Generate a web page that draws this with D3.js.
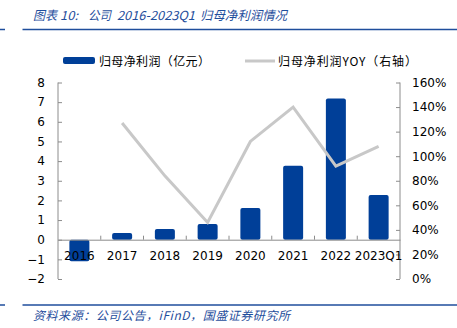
<!DOCTYPE html>
<html><head><meta charset="utf-8">
<script src="https://cdn.jsdelivr.net/npm/d3@7"></script>
<style>body{margin:0;background:#fff}svg{display:block}</style>
</head><body>
<script>
const categories = ["2016","2017","2018","2019","2020","2021","2022","2023Q1"];
const profit = [-1.1, 0.34, 0.54, 0.80, 1.61, 3.76, 7.19, 2.27];
const yoy = [null, 1.27, 0.84, 0.46, 1.12, 1.40, 0.92, 1.08];
const leftTicks = [-2,-1,0,1,2,3,4,5,6,7,8];
const rightTicks = [0,0.2,0.4,0.6,0.8,1.0,1.2,1.4,1.6];
const titleParts = ["图表", "10:", "公司", "2016-2023Q1", "归母净利润情况"];
const source = "资料来源：公司公告，iFinD，国盛证券研究所";
const legendBar = "归母净利润（亿元）";
const legendLine = "归母净利润YOY（右轴）";

const W = 457, H = 328;
const svg = d3.select("body").append("svg").attr("width", W).attr("height", H);
const blue = "#003f98", gray = "#c8c8c8", axisC = "#8c8c8c", hdr = "#1f4e9c";
const font = "DejaVu Sans, Verdana, sans-serif";
const cjk = "'Noto Sans CJK SC', sans-serif";

// header
const titleX = [33, 60, 88, 117, 200];
const titleL = [24, 18, 23, 78, 87];
svg.append("g").selectAll("text").data(titleParts).join("text")
  .attr("x", (d,i) => titleX[i]).attr("y", 19.5).attr("font-family", cjk)
  .attr("font-size", 12.5).attr("font-style", "italic").attr("fill", hdr)
  .attr("textLength", (d,i) => titleL[i]).attr("lengthAdjust", "spacingAndGlyphs")
  .text(d => d);
svg.append("line").attr("x1",0).attr("x2",5).attr("y1",29.5).attr("y2",29.5).attr("stroke",hdr).attr("stroke-width",1.5);
svg.append("line").attr("x1",22.5).attr("x2",W).attr("y1",29.5).attr("y2",29.5).attr("stroke",hdr).attr("stroke-width",1.5);
// footer
svg.append("line").attr("x1",0).attr("x2",5).attr("y1",305).attr("y2",305).attr("stroke",hdr).attr("stroke-width",1.5);
svg.append("line").attr("x1",22.5).attr("x2",W).attr("y1",305).attr("y2",305).attr("stroke",hdr).attr("stroke-width",1.5);
svg.append("text").attr("x", 33).attr("y", 320).attr("font-family", cjk)
  .attr("font-size", 12).attr("font-style", "italic").attr("fill", hdr)
  .attr("textLength", 257).attr("lengthAdjust", "spacing").text(source);

const x0 = 58, x1 = 400, yTop = 82.5, yBot = 279;
const x = d3.scaleBand().domain(categories).range([x0, x1]).paddingInner(0).paddingOuter(0);
const yL = d3.scaleLinear().domain([-2, 8]).range([yBot, yTop]);
const yR = d3.scaleLinear().domain([0, 1.6]).range([yBot, yTop]);

// left axis
const gL = svg.append("g").attr("transform", `translate(${x0},0)`)
  .call(d3.axisLeft(yL).tickValues(leftTicks).tickSize(-4).tickPadding(13).tickFormat(d3.format("d")));
// right axis
const gR = svg.append("g").attr("transform", `translate(${x1},0)`)
  .call(d3.axisRight(yR).tickValues(rightTicks).tickSize(-4).tickPadding(12).tickFormat(d3.format(".0%")));
[gL, gR].forEach(g => {
  g.select(".domain").attr("stroke", axisC).attr("d", `M0,${yTop}V${yBot}`);
  g.selectAll(".tick line").attr("stroke", axisC);
  g.selectAll("text").attr("font-family", font).attr("font-size", 12).attr("fill", "#000");
});

// bars
svg.append("g").selectAll("rect").data(profit).join("rect")
  .attr("x", (d,i) => x(categories[i]) + x.bandwidth()/2 - 10)
  .attr("width", 20)
  .attr("y", d => yL(Math.max(0,d)))
  .attr("height", d => Math.abs(yL(d) - yL(0)))
  .attr("rx", 2).attr("fill", blue);

// x axis at zero
const gX = svg.append("g").attr("transform", `translate(0,${yL(0)})`)
  .call(d3.axisBottom(x).tickSize(0).tickPadding(12));
gX.select(".domain").attr("stroke", axisC);
gX.selectAll("text").attr("font-family", font).attr("font-size", 12).attr("fill", "#000");
svg.append("g").selectAll("line").data(categories.slice(1)).join("line")
  .attr("x1", d => x(d)).attr("x2", d => x(d))
  .attr("y1", yL(0)).attr("y2", yL(0) - 4).attr("stroke", axisC);

// line
const pts = yoy.map((v,i) => [v, i]).filter(p => p[0] !== null);
svg.append("path").datum(pts)
  .attr("d", d3.line().x(p => x(categories[p[1]]) + x.bandwidth()/2).y(p => yR(p[0])))
  .attr("fill", "none").attr("stroke", gray).attr("stroke-width", 3);

// legend
svg.append("rect").attr("x", 63).attr("y", 57).attr("width", 32).attr("height", 7).attr("rx", 2).attr("fill", blue);
svg.append("text").attr("x", 99).attr("y", 65.5).attr("font-family", cjk).attr("font-size", 12).attr("fill", "#000")
  .attr("textLength", 111).attr("lengthAdjust", "spacing").text(legendBar);
svg.append("line").attr("x1", 245).attr("x2", 275).attr("y1", 61).attr("y2", 61).attr("stroke", gray).attr("stroke-width", 3);
svg.append("text").attr("x", 278).attr("y", 65.5).attr("font-family", cjk).attr("font-size", 12).attr("fill", "#000")
  .attr("textLength", 139).attr("lengthAdjust", "spacing").text(legendLine);
</script>
</body></html>
